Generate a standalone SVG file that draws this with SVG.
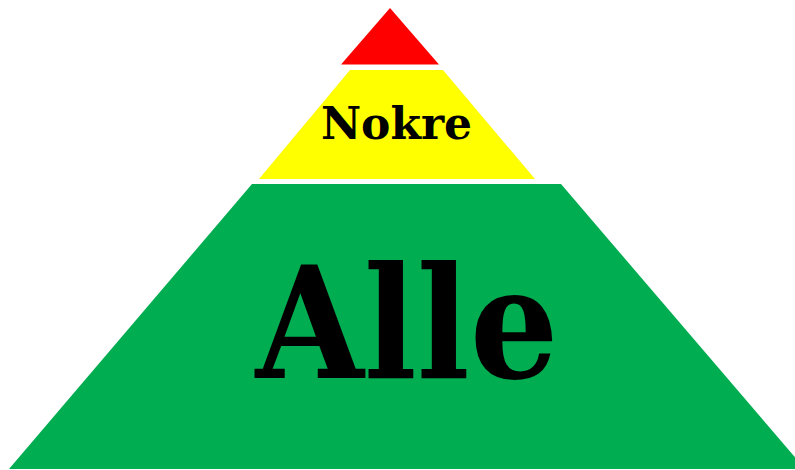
<svg xmlns="http://www.w3.org/2000/svg" width="795" height="470" viewBox="0 0 795 470">
<style>
.lbl{font-family:"DejaVu Serif","Liberation Serif",serif;font-weight:bold;fill:#000;text-anchor:middle}
.cond{font-stretch:condensed}
</style>
<rect width="795" height="470" fill="#fff"/>
<g id="top">
<polygon points="390,8 439,64.5 341,64.5" fill="#ff0000"/>
</g>
<g id="nokre">
<polygon points="350,70 443,70 535,179 259,179" fill="#ffff00"/>
<text class="lbl" x="396.5" y="139" font-size="44">Nokre</text>
</g>
<g id="alle">
<polygon points="252,184 561,184 805,469 9,469" fill="#00ad50"/>
<text class="lbl cond" x="407" y="378" font-size="155">Alle</text>
</g>
<g id="connectors"/>
</svg>
